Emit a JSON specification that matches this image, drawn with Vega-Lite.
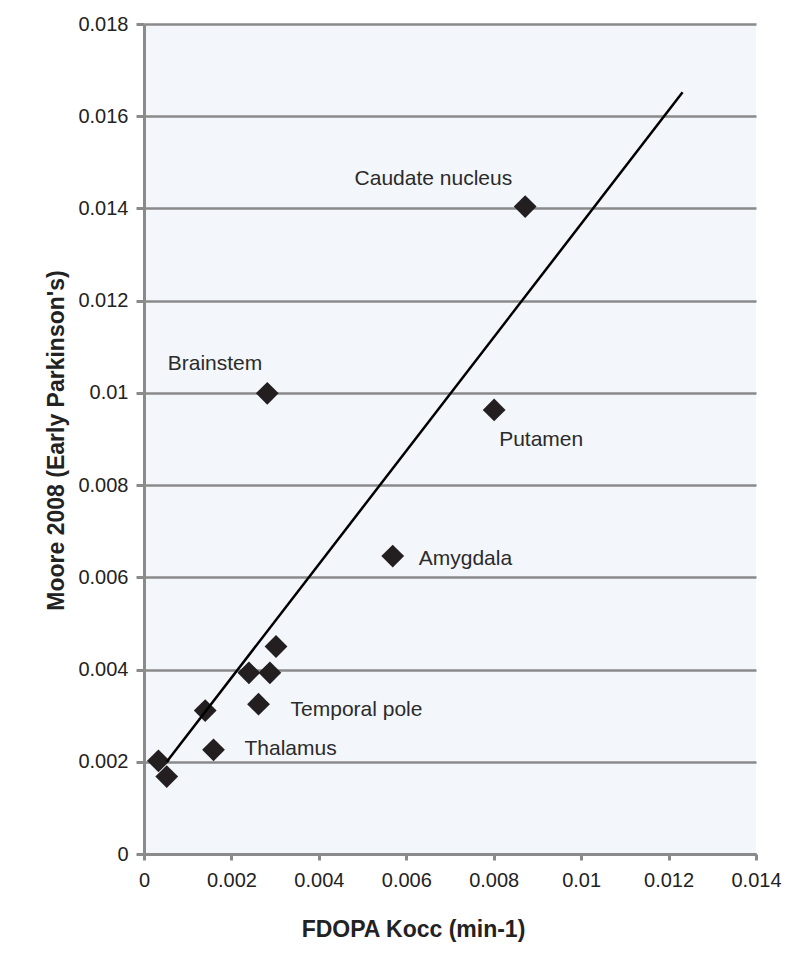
{
  "$schema": "https://vega.github.io/schema/vega-lite/v6.json",
  "width": 612,
  "height": 830,
  "autosize": {"type": "none"},
  "padding": {"left": 144, "top": 24, "right": 44, "bottom": 107},
  "background": "#ffffff",
  "config": {
    "view": {"fill": "#f3f6fa", "stroke": null},
    "font": "Liberation Sans",
    "axis": {
      "labelFont": "Liberation Sans",
      "titleFont": "Liberation Sans",
      "labelColor": "#222222",
      "titleColor": "#222222",
      "domainColor": "#8a8a8a",
      "tickColor": "#8a8a8a",
      "gridColor": "#8a8a8a",
      "domainWidth": 3,
      "tickWidth": 3,
      "gridWidth": 2.5,
      "labelFontSize": 20,
      "titleFontSize": 23,
      "titleFontWeight": "bold",
      "labelFlush": false,
      "labelOverlap": false
    }
  },
  "datasets": {
    "pts": [
      {"region": "Caudate nucleus", "kocc": 0.00872, "moore": 0.01404},
      {"region": "Brainstem", "kocc": 0.00282, "moore": 0.00999},
      {"region": "Putamen", "kocc": 0.00801, "moore": 0.00963},
      {"region": "Amygdala", "kocc": 0.00569, "moore": 0.00646},
      {"region": "", "kocc": 0.00302, "moore": 0.00450},
      {"region": "", "kocc": 0.00240, "moore": 0.00393},
      {"region": "", "kocc": 0.00288, "moore": 0.00393},
      {"region": "Temporal pole", "kocc": 0.00262, "moore": 0.00325},
      {"region": "", "kocc": 0.00140, "moore": 0.00311},
      {"region": "Thalamus", "kocc": 0.00159, "moore": 0.00226},
      {"region": "", "kocc": 0.00033, "moore": 0.00202},
      {"region": "", "kocc": 0.00052, "moore": 0.00168}
    ],
    "fit": [
      {"kocc": 0.00052, "moore": 0.00200},
      {"kocc": 0.01232, "moore": 0.01652}
    ]
  },
  "layer": [
    {
      "data": {"name": "pts"},
      "mark": {"type": "point", "shape": "diamond", "filled": true, "size": 520, "color": "#231f20", "opacity": 1},
      "encoding": {
        "x": {
          "field": "kocc", "type": "quantitative",
          "scale": {"domain": [0, 0.014], "nice": false, "zero": true},
          "axis": {
            "values": [0, 0.002, 0.004, 0.006, 0.008, 0.01, 0.012, 0.014],
            "format": "~g",
            "grid": false,
            "tickSize": 6,
            "labelPadding": 10,
            "title": "FDOPA Kocc (min-1)",
            "titleX": 269,
            "titleY": 82,
            "titleAlign": "center",
            "titleBaseline": "alphabetic"
          }
        },
        "y": {
          "field": "moore", "type": "quantitative",
          "scale": {"domain": [0, 0.018], "nice": false, "zero": true},
          "axis": {
            "values": [0, 0.002, 0.004, 0.006, 0.008, 0.01, 0.012, 0.014, 0.016, 0.018],
            "format": "~g",
            "grid": true,
            "tickSize": 8,
            "labelPadding": 8,
            "title": "Moore 2008 (Early Parkinson's)",
            "titleAngle": 270,
            "titleX": -81,
            "titleY": 416,
            "titleAlign": "center",
            "titleBaseline": "alphabetic"
          }
        }
      }
    },
    {
      "data": {"name": "fit"},
      "mark": {"type": "line", "color": "#000000", "strokeWidth": 2.5},
      "encoding": {
        "x": {"field": "kocc", "type": "quantitative"},
        "y": {"field": "moore", "type": "quantitative"}
      }
    },
    {
      "data": {"name": "pts"},
      "transform": [{"filter": "datum.region === 'Caudate nucleus'"}],
      "mark": {"type": "text", "align": "right", "baseline": "alphabetic", "dx": -13, "dy": -22, "fontSize": 21, "color": "#2b2b2b"},
      "encoding": {"x": {"field": "kocc", "type": "quantitative"}, "y": {"field": "moore", "type": "quantitative"}, "text": {"field": "region"}}
    },
    {
      "data": {"name": "pts"},
      "transform": [{"filter": "datum.region === 'Brainstem'"}],
      "mark": {"type": "text", "align": "right", "baseline": "alphabetic", "dx": -5, "dy": -23, "fontSize": 21, "color": "#2b2b2b"},
      "encoding": {"x": {"field": "kocc", "type": "quantitative"}, "y": {"field": "moore", "type": "quantitative"}, "text": {"field": "region"}}
    },
    {
      "data": {"name": "pts"},
      "transform": [{"filter": "datum.region === 'Putamen'"}],
      "mark": {"type": "text", "align": "left", "baseline": "alphabetic", "dx": 5, "dy": 36, "fontSize": 21, "color": "#2b2b2b"},
      "encoding": {"x": {"field": "kocc", "type": "quantitative"}, "y": {"field": "moore", "type": "quantitative"}, "text": {"field": "region"}}
    },
    {
      "data": {"name": "pts"},
      "transform": [{"filter": "datum.region === 'Amygdala'"}],
      "mark": {"type": "text", "align": "left", "baseline": "alphabetic", "dx": 26, "dy": 9, "fontSize": 21, "color": "#2b2b2b"},
      "encoding": {"x": {"field": "kocc", "type": "quantitative"}, "y": {"field": "moore", "type": "quantitative"}, "text": {"field": "region"}}
    },
    {
      "data": {"name": "pts"},
      "transform": [{"filter": "datum.region === 'Temporal pole'"}],
      "mark": {"type": "text", "align": "left", "baseline": "alphabetic", "dx": 32, "dy": 12, "fontSize": 21, "color": "#2b2b2b"},
      "encoding": {"x": {"field": "kocc", "type": "quantitative"}, "y": {"field": "moore", "type": "quantitative"}, "text": {"field": "region"}}
    },
    {
      "data": {"name": "pts"},
      "transform": [{"filter": "datum.region === 'Thalamus'"}],
      "mark": {"type": "text", "align": "left", "baseline": "alphabetic", "dx": 31, "dy": 5, "fontSize": 21, "color": "#2b2b2b"},
      "encoding": {"x": {"field": "kocc", "type": "quantitative"}, "y": {"field": "moore", "type": "quantitative"}, "text": {"field": "region"}}
    }
  ]
}
